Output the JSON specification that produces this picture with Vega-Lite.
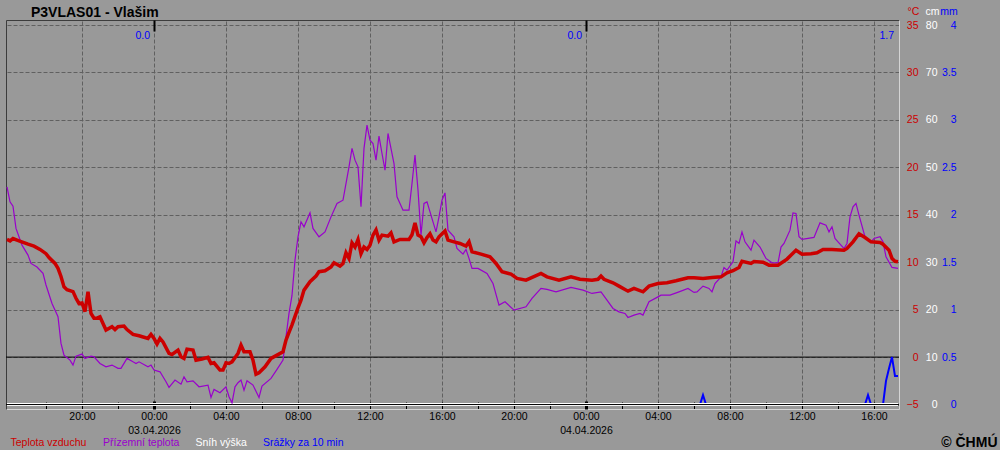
{
"$schema":"https://vega.github.io/schema/vega-lite/v6.json",
"width":893,"height":389,"autosize":"none",
"padding":{"left":6,"top":20,"right":101,"bottom":41},
"background":"#999999",
"config":{"view":{"stroke":null},"font":"Liberation Sans"},
"title":{"text":"P3VLAS01 - Vlašim","anchor":"start","dx":31,"dy":14,"offset":-10.4,"baseline":"alphabetic","fontSize":14,"fontWeight":"bold","color":"#000000"},
"datasets":{
"air":[
{"t":"2026-04-02T15:50Z","v":12.4},{"t":"2026-04-02T16:00Z","v":12.25},{"t":"2026-04-02T16:10Z","v":12.5},{"t":"2026-04-02T16:30Z","v":12.25},{"t":"2026-04-02T17:00Z","v":11.9},{"t":"2026-04-02T17:20Z","v":11.7},{"t":"2026-04-02T17:40Z","v":11.35},{"t":"2026-04-02T18:00Z","v":10.9},{"t":"2026-04-02T18:10Z","v":10.5},{"t":"2026-04-02T18:30Z","v":9.87},{"t":"2026-04-02T18:40Z","v":9.35},{"t":"2026-04-02T18:50Z","v":8.5},{"t":"2026-04-02T19:00Z","v":7.4},{"t":"2026-04-02T19:10Z","v":7.1},{"t":"2026-04-02T19:30Z","v":6.9},{"t":"2026-04-02T19:40Z","v":6.2},{"t":"2026-04-02T19:50Z","v":5.65},{"t":"2026-04-02T20:00Z","v":5.7},{"t":"2026-04-02T20:10Z","v":4.8},{"t":"2026-04-02T20:20Z","v":6.9},{"t":"2026-04-02T20:30Z","v":4.6},{"t":"2026-04-02T20:40Z","v":4.1},{"t":"2026-04-02T20:50Z","v":4.1},{"t":"2026-04-02T21:00Z","v":4.25},{"t":"2026-04-02T21:10Z","v":3.55},{"t":"2026-04-02T21:20Z","v":2.85},{"t":"2026-04-02T21:40Z","v":3.2},{"t":"2026-04-02T21:50Z","v":2.9},{"t":"2026-04-02T22:00Z","v":3.2},{"t":"2026-04-02T22:20Z","v":3.27},{"t":"2026-04-02T22:30Z","v":2.9},{"t":"2026-04-02T22:50Z","v":2.4},{"t":"2026-04-02T23:10Z","v":2.25},{"t":"2026-04-02T23:40Z","v":1.97},{"t":"2026-04-02T23:50Z","v":2.4},
{"t":"2026-04-03T00:00Z","v":1.97},{"t":"2026-04-03T00:10Z","v":1.37},{"t":"2026-04-03T00:20Z","v":1.97},{"t":"2026-04-03T00:30Z","v":1.6},{"t":"2026-04-03T00:50Z","v":0.39},{"t":"2026-04-03T01:00Z","v":0.28},{"t":"2026-04-03T01:20Z","v":0.74},{"t":"2026-04-03T01:30Z","v":0.03},{"t":"2026-04-03T01:40Z","v":-0.14},{"t":"2026-04-03T01:50Z","v":0.84},{"t":"2026-04-03T02:10Z","v":0.74},{"t":"2026-04-03T02:20Z","v":-0.32},{"t":"2026-04-03T02:40Z","v":-0.2},{"t":"2026-04-03T03:00Z","v":-0.03},{"t":"2026-04-03T03:10Z","v":-0.67},{"t":"2026-04-03T03:20Z","v":-0.6},{"t":"2026-04-03T03:40Z","v":-1.37},{"t":"2026-04-03T03:50Z","v":-1.37},{"t":"2026-04-03T04:00Z","v":-0.6},{"t":"2026-04-03T04:10Z","v":-0.67},{"t":"2026-04-03T04:20Z","v":-0.5},{"t":"2026-04-03T04:40Z","v":0.39},{"t":"2026-04-03T04:50Z","v":1.26},{"t":"2026-04-03T05:00Z","v":0.56},{"t":"2026-04-03T05:20Z","v":0.56},{"t":"2026-04-03T05:30Z","v":-0.32},{"t":"2026-04-03T05:40Z","v":-1.8},{"t":"2026-04-03T05:50Z","v":-1.65},{"t":"2026-04-03T06:10Z","v":-1.02},{"t":"2026-04-03T06:30Z","v":-0.14},{"t":"2026-04-03T06:50Z","v":0.21},{"t":"2026-04-03T07:10Z","v":0.56},{"t":"2026-04-03T07:20Z","v":1.8},{"t":"2026-04-03T07:30Z","v":2.6},{"t":"2026-04-03T07:40Z","v":3.4},{"t":"2026-04-03T07:50Z","v":4.3},{"t":"2026-04-03T08:00Z","v":5.2},{"t":"2026-04-03T08:10Z","v":6.0},{"t":"2026-04-03T08:20Z","v":7.06},{"t":"2026-04-03T08:40Z","v":7.94},{"t":"2026-04-03T09:00Z","v":8.54},{"t":"2026-04-03T09:10Z","v":9.0},{"t":"2026-04-03T09:30Z","v":9.1},{"t":"2026-04-03T09:50Z","v":9.5},{"t":"2026-04-03T10:00Z","v":9.94},{"t":"2026-04-03T10:20Z","v":9.6},{"t":"2026-04-03T10:30Z","v":9.87},{"t":"2026-04-03T10:40Z","v":11.0},{"t":"2026-04-03T10:50Z","v":10.4},{"t":"2026-04-03T11:00Z","v":12.05},{"t":"2026-04-03T11:10Z","v":11.6},{"t":"2026-04-03T11:20Z","v":12.4},{"t":"2026-04-03T11:30Z","v":10.9},{"t":"2026-04-03T11:40Z","v":11.6},{"t":"2026-04-03T11:50Z","v":11.35},{"t":"2026-04-03T12:00Z","v":11.8},{"t":"2026-04-03T12:10Z","v":12.86},{"t":"2026-04-03T12:20Z","v":13.4},{"t":"2026-04-03T12:30Z","v":12.33},{"t":"2026-04-03T12:40Z","v":12.86},{"t":"2026-04-03T13:00Z","v":12.75},{"t":"2026-04-03T13:10Z","v":13.1},{"t":"2026-04-03T13:20Z","v":12.15},{"t":"2026-04-03T13:40Z","v":12.4},{"t":"2026-04-03T14:10Z","v":12.4},{"t":"2026-04-03T14:20Z","v":12.9},{"t":"2026-04-03T14:30Z","v":14.15},{"t":"2026-04-03T14:40Z","v":12.86},{"t":"2026-04-03T14:50Z","v":12.68},{"t":"2026-04-03T15:00Z","v":12.05},{"t":"2026-04-03T15:10Z","v":12.6},{"t":"2026-04-03T15:20Z","v":13.0},{"t":"2026-04-03T15:30Z","v":12.33},{"t":"2026-04-03T15:40Z","v":12.15},{"t":"2026-04-03T15:50Z","v":12.68},{"t":"2026-04-03T16:10Z","v":13.3},{"t":"2026-04-03T16:20Z","v":12.33},{"t":"2026-04-03T16:40Z","v":12.15},{"t":"2026-04-03T17:00Z","v":11.98},{"t":"2026-04-03T17:20Z","v":11.7},{"t":"2026-04-03T17:30Z","v":12.15},{"t":"2026-04-03T17:40Z","v":11.1},{"t":"2026-04-03T18:10Z","v":10.85},{"t":"2026-04-03T18:40Z","v":10.57},{"t":"2026-04-03T19:00Z","v":9.87},{"t":"2026-04-03T19:20Z","v":8.99},{"t":"2026-04-03T19:50Z","v":8.75},{"t":"2026-04-03T20:10Z","v":8.29},{"t":"2026-04-03T20:40Z","v":8.11},{"t":"2026-04-03T21:30Z","v":8.82},{"t":"2026-04-03T21:50Z","v":8.46},{"t":"2026-04-03T22:30Z","v":8.11},{"t":"2026-04-03T23:10Z","v":8.46},{"t":"2026-04-03T23:40Z","v":8.2},
{"t":"2026-04-04T00:20Z","v":8.11},{"t":"2026-04-04T00:40Z","v":8.2},{"t":"2026-04-04T00:50Z","v":8.54},{"t":"2026-04-04T01:00Z","v":8.2},{"t":"2026-04-04T01:30Z","v":7.83},{"t":"2026-04-04T01:50Z","v":7.48},{"t":"2026-04-04T02:20Z","v":6.95},{"t":"2026-04-04T02:40Z","v":7.24},{"t":"2026-04-04T03:10Z","v":6.88},{"t":"2026-04-04T03:30Z","v":7.48},{"t":"2026-04-04T04:00Z","v":7.76},{"t":"2026-04-04T04:30Z","v":7.83},{"t":"2026-04-04T05:00Z","v":8.04},{"t":"2026-04-04T05:40Z","v":8.36},{"t":"2026-04-04T06:00Z","v":8.36},{"t":"2026-04-04T06:30Z","v":8.29},{"t":"2026-04-04T07:00Z","v":8.4},{"t":"2026-04-04T07:30Z","v":8.46},{"t":"2026-04-04T07:50Z","v":8.88},{"t":"2026-04-04T08:10Z","v":9.1},{"t":"2026-04-04T08:30Z","v":9.45},{"t":"2026-04-04T08:40Z","v":10.1},{"t":"2026-04-04T09:10Z","v":9.87},{"t":"2026-04-04T09:20Z","v":10.08},{"t":"2026-04-04T09:50Z","v":10.0},{"t":"2026-04-04T10:10Z","v":9.69},{"t":"2026-04-04T10:40Z","v":9.69},{"t":"2026-04-04T11:10Z","v":10.33},{"t":"2026-04-04T11:40Z","v":11.27},{"t":"2026-04-04T12:00Z","v":10.85},{"t":"2026-04-04T12:30Z","v":10.9},{"t":"2026-04-04T12:50Z","v":11.0},{"t":"2026-04-04T13:10Z","v":11.35},{"t":"2026-04-04T13:40Z","v":11.35},{"t":"2026-04-04T14:20Z","v":11.27},{"t":"2026-04-04T14:30Z","v":11.45},{"t":"2026-04-04T14:50Z","v":12.15},{"t":"2026-04-04T15:10Z","v":13.0},{"t":"2026-04-04T15:30Z","v":12.61},{"t":"2026-04-04T15:50Z","v":12.15},{"t":"2026-04-04T16:20Z","v":12.08},{"t":"2026-04-04T16:30Z","v":11.9},{"t":"2026-04-04T16:50Z","v":11.27},{"t":"2026-04-04T17:00Z","v":10.4},{"t":"2026-04-04T17:10Z","v":10.1},{"t":"2026-04-04T17:20Z","v":10.04}
],
"ground":[
{"t":"2026-04-02T15:50Z","v":17.95},{"t":"2026-04-02T16:00Z","v":16.36},{"t":"2026-04-02T16:10Z","v":15.9},{"t":"2026-04-02T16:20Z","v":13.56},{"t":"2026-04-02T16:40Z","v":11.8},{"t":"2026-04-02T17:00Z","v":10.75},{"t":"2026-04-02T17:10Z","v":9.87},{"t":"2026-04-02T17:30Z","v":9.5},{"t":"2026-04-02T17:50Z","v":8.82},{"t":"2026-04-02T18:00Z","v":7.6},{"t":"2026-04-02T18:20Z","v":5.65},{"t":"2026-04-02T18:40Z","v":4.25},{"t":"2026-04-02T18:50Z","v":1.44},{"t":"2026-04-02T19:00Z","v":0.21},{"t":"2026-04-02T19:20Z","v":-0.32},{"t":"2026-04-02T19:30Z","v":-0.84},{"t":"2026-04-02T19:40Z","v":0.1},{"t":"2026-04-02T20:00Z","v":0.32},{"t":"2026-04-02T20:10Z","v":-0.14},{"t":"2026-04-02T20:30Z","v":0.1},{"t":"2026-04-02T20:40Z","v":0.03},{"t":"2026-04-02T21:00Z","v":-0.67},{"t":"2026-04-02T21:20Z","v":-1.02},{"t":"2026-04-02T21:40Z","v":-0.84},{"t":"2026-04-02T22:00Z","v":-1.19},{"t":"2026-04-02T22:10Z","v":-1.19},{"t":"2026-04-02T22:30Z","v":-0.14},{"t":"2026-04-02T22:50Z","v":-0.5},{"t":"2026-04-02T23:00Z","v":-0.67},{"t":"2026-04-02T23:10Z","v":-0.5},{"t":"2026-04-02T23:40Z","v":-1.02},{"t":"2026-04-02T23:50Z","v":-0.84},
{"t":"2026-04-03T00:00Z","v":-1.37},{"t":"2026-04-03T00:20Z","v":-1.55},{"t":"2026-04-03T00:40Z","v":-2.6},{"t":"2026-04-03T00:50Z","v":-3.19},{"t":"2026-04-03T01:10Z","v":-2.42},{"t":"2026-04-03T01:30Z","v":-2.85},{"t":"2026-04-03T01:40Z","v":-2.07},{"t":"2026-04-03T01:50Z","v":-2.6},{"t":"2026-04-03T02:10Z","v":-2.5},{"t":"2026-04-03T02:30Z","v":-3.13},{"t":"2026-04-03T03:00Z","v":-2.95},{"t":"2026-04-03T03:10Z","v":-4.25},{"t":"2026-04-03T03:20Z","v":-3.4},{"t":"2026-04-03T03:40Z","v":-3.76},{"t":"2026-04-03T04:00Z","v":-3.13},{"t":"2026-04-03T04:10Z","v":-4.18},{"t":"2026-04-03T04:20Z","v":-4.82},{"t":"2026-04-03T04:30Z","v":-3.13},{"t":"2026-04-03T04:40Z","v":-2.7},{"t":"2026-04-03T04:50Z","v":-2.42},{"t":"2026-04-03T05:00Z","v":-3.48},{"t":"2026-04-03T05:10Z","v":-2.5},{"t":"2026-04-03T05:30Z","v":-2.95},{"t":"2026-04-03T05:50Z","v":-4.25},{"t":"2026-04-03T06:00Z","v":-3.06},{"t":"2026-04-03T06:30Z","v":-2.25},{"t":"2026-04-03T06:50Z","v":-1.3},{"t":"2026-04-03T07:10Z","v":-0.32},{"t":"2026-04-03T07:20Z","v":2.14},{"t":"2026-04-03T07:30Z","v":4.6},{"t":"2026-04-03T07:40Z","v":6.5},{"t":"2026-04-03T07:50Z","v":10.22},{"t":"2026-04-03T08:00Z","v":12.68},{"t":"2026-04-03T08:10Z","v":14.26},{"t":"2026-04-03T08:20Z","v":13.73},{"t":"2026-04-03T08:40Z","v":15.2},{"t":"2026-04-03T08:50Z","v":13.56},{"t":"2026-04-03T09:10Z","v":12.68},{"t":"2026-04-03T09:30Z","v":13.2},{"t":"2026-04-03T09:50Z","v":14.78},{"t":"2026-04-03T10:10Z","v":16.2},{"t":"2026-04-03T10:30Z","v":16.54},{"t":"2026-04-03T10:50Z","v":20.05},{"t":"2026-04-03T11:00Z","v":22.0},{"t":"2026-04-03T11:10Z","v":20.76},{"t":"2026-04-03T11:20Z","v":20.05},{"t":"2026-04-03T11:30Z","v":15.84},{"t":"2026-04-03T11:40Z","v":22.0},{"t":"2026-04-03T11:50Z","v":24.45},{"t":"2026-04-03T12:00Z","v":22.87},{"t":"2026-04-03T12:10Z","v":22.5},{"t":"2026-04-03T12:20Z","v":20.76},{"t":"2026-04-03T12:30Z","v":23.29},{"t":"2026-04-03T12:40Z","v":21.46},{"t":"2026-04-03T12:50Z","v":19.7},{"t":"2026-04-03T13:00Z","v":23.57},{"t":"2026-04-03T13:20Z","v":20.4},{"t":"2026-04-03T13:30Z","v":16.9},{"t":"2026-04-03T13:50Z","v":15.49},{"t":"2026-04-03T14:10Z","v":15.49},{"t":"2026-04-03T14:20Z","v":18.3},{"t":"2026-04-03T14:30Z","v":21.29},{"t":"2026-04-03T14:40Z","v":17.6},{"t":"2026-04-03T14:50Z","v":12.86},{"t":"2026-04-03T15:00Z","v":16.2},{"t":"2026-04-03T15:10Z","v":16.36},{"t":"2026-04-03T15:30Z","v":14.26},{"t":"2026-04-03T15:40Z","v":13.2},{"t":"2026-04-03T15:50Z","v":14.78},{"t":"2026-04-03T16:00Z","v":16.54},{"t":"2026-04-03T16:10Z","v":17.31},{"t":"2026-04-03T16:20Z","v":13.38},{"t":"2026-04-03T16:40Z","v":12.68},{"t":"2026-04-03T16:50Z","v":11.45},{"t":"2026-04-03T17:10Z","v":10.85},{"t":"2026-04-03T17:20Z","v":11.35},{"t":"2026-04-03T17:30Z","v":10.4},{"t":"2026-04-03T17:40Z","v":9.35},{"t":"2026-04-03T18:00Z","v":9.35},{"t":"2026-04-03T18:30Z","v":8.82},{"t":"2026-04-03T18:50Z","v":7.76},{"t":"2026-04-03T19:10Z","v":5.48},{"t":"2026-04-03T19:30Z","v":5.83},{"t":"2026-04-03T20:00Z","v":4.95},{"t":"2026-04-03T20:40Z","v":5.3},{"t":"2026-04-03T21:00Z","v":6.18},{"t":"2026-04-03T21:30Z","v":7.24},{"t":"2026-04-03T21:50Z","v":7.13},{"t":"2026-04-03T22:20Z","v":6.88},{"t":"2026-04-03T23:10Z","v":7.34},{"t":"2026-04-03T23:50Z","v":7.06},
{"t":"2026-04-04T00:20Z","v":6.71},{"t":"2026-04-04T00:50Z","v":6.88},{"t":"2026-04-04T01:10Z","v":6.0},{"t":"2026-04-04T01:30Z","v":5.13},{"t":"2026-04-04T01:50Z","v":4.77},{"t":"2026-04-04T02:10Z","v":4.6},{"t":"2026-04-04T02:20Z","v":4.18},{"t":"2026-04-04T02:40Z","v":4.43},{"t":"2026-04-04T03:00Z","v":4.6},{"t":"2026-04-04T03:10Z","v":4.43},{"t":"2026-04-04T03:30Z","v":5.83},{"t":"2026-04-04T04:00Z","v":6.35},{"t":"2026-04-04T04:10Z","v":6.53},{"t":"2026-04-04T04:40Z","v":6.53},{"t":"2026-04-04T05:10Z","v":6.88},{"t":"2026-04-04T05:40Z","v":7.24},{"t":"2026-04-04T06:00Z","v":6.82},{"t":"2026-04-04T06:10Z","v":6.88},{"t":"2026-04-04T06:30Z","v":7.48},{"t":"2026-04-04T06:50Z","v":7.24},{"t":"2026-04-04T07:00Z","v":6.88},{"t":"2026-04-04T07:10Z","v":7.76},{"t":"2026-04-04T07:30Z","v":8.46},{"t":"2026-04-04T07:40Z","v":9.45},{"t":"2026-04-04T07:50Z","v":9.17},{"t":"2026-04-04T08:10Z","v":10.04},{"t":"2026-04-04T08:20Z","v":12.25},{"t":"2026-04-04T08:30Z","v":11.98},{"t":"2026-04-04T08:40Z","v":13.2},{"t":"2026-04-04T08:50Z","v":12.15},{"t":"2026-04-04T09:10Z","v":11.27},{"t":"2026-04-04T09:20Z","v":12.33},{"t":"2026-04-04T09:40Z","v":11.6},{"t":"2026-04-04T10:00Z","v":10.4},{"t":"2026-04-04T10:20Z","v":9.94},{"t":"2026-04-04T10:40Z","v":9.94},{"t":"2026-04-04T10:50Z","v":11.6},{"t":"2026-04-04T11:00Z","v":11.98},{"t":"2026-04-04T11:20Z","v":13.38},{"t":"2026-04-04T11:30Z","v":15.2},{"t":"2026-04-04T11:40Z","v":15.14},{"t":"2026-04-04T11:50Z","v":12.68},{"t":"2026-04-04T12:00Z","v":12.4},{"t":"2026-04-04T12:40Z","v":12.61},{"t":"2026-04-04T13:00Z","v":14.15},{"t":"2026-04-04T13:20Z","v":13.9},{"t":"2026-04-04T13:30Z","v":13.2},{"t":"2026-04-04T13:40Z","v":13.73},{"t":"2026-04-04T13:50Z","v":12.5},{"t":"2026-04-04T14:00Z","v":12.15},{"t":"2026-04-04T14:20Z","v":11.45},{"t":"2026-04-04T14:30Z","v":11.98},{"t":"2026-04-04T14:40Z","v":14.78},{"t":"2026-04-04T14:50Z","v":15.84},{"t":"2026-04-04T15:00Z","v":16.2},{"t":"2026-04-04T15:10Z","v":14.96},{"t":"2026-04-04T15:30Z","v":12.68},{"t":"2026-04-04T15:50Z","v":12.15},{"t":"2026-04-04T16:00Z","v":12.5},{"t":"2026-04-04T16:20Z","v":12.68},{"t":"2026-04-04T16:30Z","v":12.15},{"t":"2026-04-04T16:40Z","v":10.57},{"t":"2026-04-04T17:00Z","v":9.45},{"t":"2026-04-04T17:20Z","v":9.35}
],
"precip":[
{"t":"2026-04-02T15:50Z","mm":0},{"t":"2026-04-04T06:20Z","mm":0},{"t":"2026-04-04T06:30Z","mm":0.1},{"t":"2026-04-04T06:40Z","mm":0},{"t":"2026-04-04T15:30Z","mm":0},{"t":"2026-04-04T15:40Z","mm":0.1},{"t":"2026-04-04T15:50Z","mm":0},{"t":"2026-04-04T16:30Z","mm":0},{"t":"2026-04-04T16:40Z","mm":0.25},{"t":"2026-04-04T16:50Z","mm":0.38},{"t":"2026-04-04T17:00Z","mm":0.5},{"t":"2026-04-04T17:10Z","mm":0.3},{"t":"2026-04-04T17:20Z","mm":0.3}
],
"snow":[
{"t":"2026-04-02T15:50Z","cm":0},{"t":"2026-04-03T00:00Z","cm":0},{"t":"2026-04-03T12:00Z","cm":0},{"t":"2026-04-04T00:00Z","cm":0},{"t":"2026-04-04T12:00Z","cm":0},{"t":"2026-04-04T17:20Z","cm":0}
],
"sums":[
{"t":"2026-04-03T00:00Z","s":"0.0"},{"t":"2026-04-04T00:00Z","s":"0.0"},{"t":"2026-04-04T17:20Z","s":"1.7"}
]
},
"resolve":{"scale":{"y":"independent"},"axis":{"x":"independent","y":"independent"}},
"layer":[
{"data":{"values":[{}]},"mark":{"type":"rule","color":"#000000","strokeWidth":1},
 "encoding":{"y":{"datum":0,"type":"quantitative","scale":{"domain":[-5.47,35.53],"nice":false,"zero":false},"axis":null}}},
{"data":{"name":"precip"},"mark":{"type":"line","strokeWidth":2},
 "encoding":{
  "x":{"field":"t","type":"temporal","scale":{"type":"utc","nice":false,"domain":[1775144800000,1775323400000]},
   "axis":{"orient":"bottom","values":[1775152800000,1775160000000,1775167200000,1775174400000,1775181600000,1775188800000,1775196000000,1775203200000,1775210400000,1775217600000,1775224800000,1775232000000,1775239200000,1775246400000,1775253600000,1775260800000,1775268000000,1775275200000,1775282400000,1775289600000,1775296800000,1775304000000,1775311200000,1775318400000],"tickSize":-7,"tickColor":"#000000","tickWidth":1,"labels":false,"domain":false,"grid":false,"title":null}},
  "y":{"field":"mm","type":"quantitative","scale":{"domain":[-0.047,4.053],"nice":false,"zero":false},
   "axis":{"orient":"right","values":[0,0.5,1,1.5,2,2.5,3,3.5,4],"format":"~g","ticks":false,"domain":false,"grid":false,"labelAlign":"right","labelPadding":57,"labelColor":"#0000ff","labelFontSize":10.5,"labelOverlap":false,"title":"mm","titleAngle":0,"titleAlign":"center","titleBaseline":"alphabetic","titleX":49.5,"titleY":-5.5,"titleColor":"#0000ff","titleFontSize":10.5,"titleFontWeight":"normal"}},
  "color":{"datum":"Srážky za 10 min","type":"nominal",
   "scale":{"domain":["Teplota vzduchu","Přízemní teplota","Sníh výška","Srážky za 10 min"],"range":["#cc0000","#9900cc","#ffffff","#0000ff"]},
   "legend":{"orient":"none","legendX":-6,"legendY":418,"direction":"horizontal","title":null,"symbolOpacity":0,"symbolSize":1,"labelOffset":0,"columnPadding":5.5,"labelFontSize":10.5,"padding":0,
    "encoding":{"labels":{"fill":{"value":{"expr":"scale('color', datum.value)"}}}}}}}},
{"data":{"name":"snow"},"mark":{"type":"line","strokeWidth":3},
 "encoding":{
  "x":{"field":"t","type":"temporal","scale":{"type":"utc","nice":false,"domain":[1775144800000,1775323400000]},
   "axis":{"orient":"top","values":[1775160000000,1775174400000,1775188800000,1775203200000,1775217600000,1775232000000,1775246400000,1775260800000,1775275200000,1775289600000,1775304000000,1775318400000],"labels":false,"ticks":false,"domain":true,"domainColor":"#3c3c3c","grid":true,"gridColor":"#606060","gridDash":[4,2],"title":null}},
  "y":{"field":"cm","type":"quantitative","scale":{"domain":[-0.94,81.06],"nice":false,"zero":false},
   "axis":{"orient":"right","values":[0,10,20,30,40,50,60,70,80],"ticks":false,"domain":false,"grid":false,"labelAlign":"right","labelPadding":38,"labelColor":"#ffffff","labelFontSize":10.5,"labelOverlap":false,"title":"cm","titleAngle":0,"titleAlign":"center","titleBaseline":"alphabetic","titleX":33,"titleY":-5.5,"titleColor":"#ffffff","titleFontSize":10.5,"titleFontWeight":"normal"}},
  "color":{"datum":"Sníh výška","type":"nominal"}}},
{"data":{"values":[{}]},"mark":{"type":"rule","color":"#000000","strokeWidth":1},
 "encoding":{"y":{"datum":-5,"type":"quantitative","scale":{"domain":[-5.47,35.53],"nice":false,"zero":false},"axis":null}}},
{"data":{"name":"ground"},"mark":{"type":"line","strokeWidth":1.2},
 "encoding":{
  "x":{"field":"t","type":"temporal","scale":{"type":"utc","nice":false,"domain":[1775144800000,1775323400000]},
   "axis":{"orient":"top","values":[1775174400000,1775260800000],"tickSize":-11,"tickWidth":2,"tickColor":"#000000","labels":false,"domain":false,"grid":false,"title":null}},
  "y":{"field":"v","type":"quantitative","scale":{"domain":[-5.47,35.53],"nice":false,"zero":false},
   "axis":{"orient":"left","labels":false,"ticks":false,"grid":false,"domain":true,"domainColor":"#3c3c3c","title":null}},
  "color":{"datum":"Přízemní teplota","type":"nominal"}}},
{"data":{"name":"air"},"mark":{"type":"line","strokeWidth":3.5},
 "encoding":{
  "x":{"field":"t","type":"temporal","scale":{"type":"utc","nice":false,"domain":[1775144800000,1775323400000]},
   "axis":{"orient":"bottom","values":[1775160000000,1775174400000,1775188800000,1775203200000,1775217600000,1775232000000,1775246400000,1775260800000,1775275200000,1775289600000,1775304000000,1775318400000],"format":"%H:%M","ticks":false,"domain":true,"domainColor":"#d4d4d4","grid":false,"labelPadding":2,"labelBaseline":"top","labelFontSize":10.5,"labelColor":"#000000","labelFlush":false,"labelOverlap":false,
    "title":"© ČHMÚ","titleFontSize":14,"titleFontWeight":"bold","titleColor":"#000000","titleAlign":"right","titleBaseline":"alphabetic","titleX":991,"titleY":37}},
  "y":{"field":"v","type":"quantitative","scale":{"domain":[-5.47,35.53],"nice":false,"zero":false},
   "axis":{"orient":"right","values":[-5,0,5,10,15,20,25,30,35],"ticks":false,"labelAlign":"right","labelPadding":19,"labelColor":"#cc0000","labelFontSize":10.5,"labelOverlap":false,"domain":true,"domainColor":"#d4d4d4","grid":true,"gridColor":"#606060","gridDash":[4,2],"title":"°C","titleAngle":0,"titleAlign":"center","titleBaseline":"alphabetic","titleX":14,"titleY":-5.5,"titleColor":"#cc0000","titleFontSize":10.5,"titleFontWeight":"normal"}},
  "color":{"datum":"Teplota vzduchu","type":"nominal"}}},
{"data":{"name":"sums"},"mark":{"type":"text","align":"right","baseline":"alphabetic","dx":-4,"fontSize":10.5,"color":"#0000ff"},
 "encoding":{
  "x":{"field":"t","type":"temporal","scale":{"type":"utc","nice":false,"domain":[1775144800000,1775323400000]},
   "axis":{"orient":"bottom","values":[1775174400000,1775260800000],"tickSize":-8,"tickWidth":3,"tickColor":"#000000","format":"%d.%m.%Y","labelPadding":24,"labelBaseline":"top","labelFontSize":10.5,"labelColor":"#000000","labelFlush":false,"labelOverlap":false,"domain":false,"grid":false,"title":null}},
  "y":{"datum":33.5,"type":"quantitative","scale":{"domain":[-5.47,35.53],"nice":false,"zero":false},"axis":null},
  "text":{"field":"s"}}}
]
}
